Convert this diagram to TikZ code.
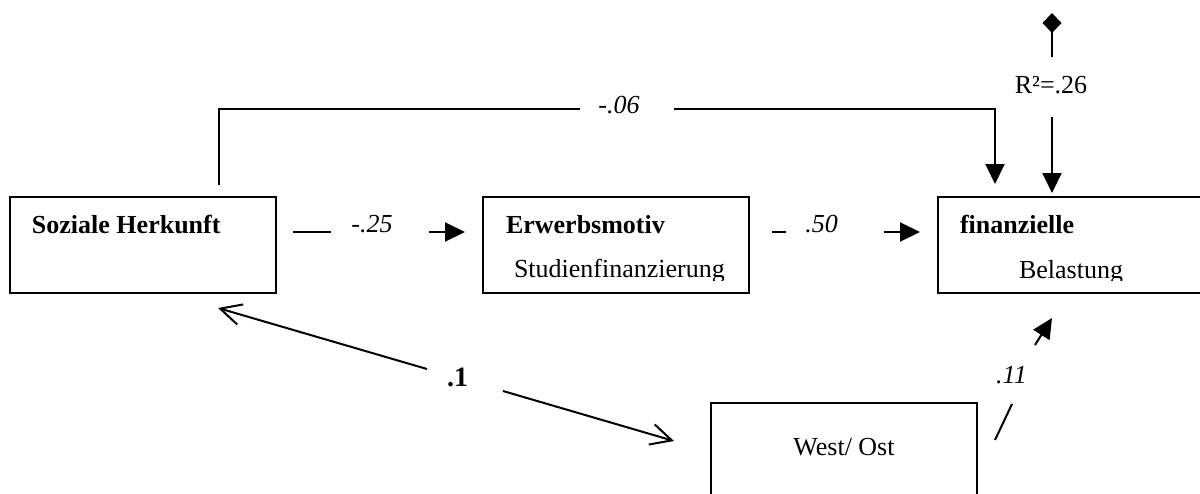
\documentclass[tikz,border=0pt]{standalone}
\usepackage{fontspec}
\setmainfont{Liberation Serif}
\usetikzlibrary{positioning,arrows.meta}

\begin{document}
\begin{tikzpicture}
 [x=0.5pt, y=-0.5pt, line width=1pt,
  box/.style={rectangle,draw=black,minimum width=133pt,minimum height=48pt,inner sep=0pt,outer sep=0pt,anchor=north west},
  boxtext/.style={anchor=base west,inner sep=0pt,font=\fontsize{13}{15}\selectfont},
  coef/.style={anchor=base,inner sep=0pt,font=\fontsize{13}{15}\selectfont\itshape},
  effect/.style={-{Triangle[length=10pt,width=9.5pt]}},
  corr/.style={-{Straight Barb[length=10.5pt,width=10.5pt]}}]
 \clip (0,0) rectangle (1200,493);
 % Kaesten
 \node (hk) [box] at (10,197) {};
 \node (em) [box] at (483,197) {};
 \node (fb) [box] at (938,197) {};
 \node (wo) [box] at (711,403) {};
 \node (hk-t) [boxtext] at ([xshift=10.5pt,yshift=-18pt]hk.north west) {\bfseries Soziale Herkunft};
 \node (em-t) [boxtext] at ([xshift=11pt,yshift=-18pt]em.north west) {\bfseries Erwerbsmotiv};
 \node (fb-t) [boxtext] at ([xshift=10.5pt,yshift=-18pt]fb.north west) {\bfseries finanzielle};
 \begin{scope}
 \clip (0,0) rectangle (1200,280.5);
 \node (em-u) [boxtext] at ([xshift=15pt,yshift=-40pt]em.north west) {Studienfinanzierung};
 \node (fb-u) [boxtext] at ([xshift=40pt,yshift=-40.5pt]fb.north west) {Belastung};
 \end{scope}
 \node (wo-t) [boxtext,anchor=base] at ([yshift=-26pt]wo.north) {West/ Ost};
 % Pfade
 \node (l25) [coef] at (372,232) {-.25};
 \node (l50) [coef] at (821.5,232) {.50};
 \node (l06) [coef] at (619,113) {-.06};
 \node (l11) [coef] at (1011.5,383) {.11};
 \node (l1) [anchor=base,inner sep=0pt,font=\fontsize{14}{16}\selectfont\bfseries] at (457.5,386) {.1};
 \node (r2) [anchor=base,inner sep=0pt,font=\fontsize{13}{15}\selectfont] at (1051,93) {R²=.26};
 \draw ([xshift=8.5pt]hk.east |- l25.base) -- ([xshift=-9.5pt]l25.base west);
 \draw[effect] ([xshift=17.5pt]l25.base east) -- ([xshift=-9pt]em.west |- l25.base);
 \draw ([xshift=11.5pt]em.east |- l50.base) -- ([xshift=-9pt]l50.base west);
 \draw[effect] ([xshift=22.5pt]l50.base east) -- ([xshift=-9pt]fb.west |- l50.base);
 \coordinate (k06a) at (580,109);
 \coordinate (k06b) at (674,109);
 \draw ([xshift=104.5pt,yshift=6pt]hk.north west) |- (k06a);
 \draw[effect] (k06b) -| ([xshift=28.5pt,yshift=6.5pt]fb.north west);
 \coordinate (eps) at (1052,13);
 \draw[{Diamond[length=10pt,width=9.5pt]}-] (eps) -- ([yshift=9pt]eps |- r2.north);
 \draw[effect] ([yshift=-11.5pt]eps |- r2.south) -- ([yshift=2pt]eps |- fb.north);
 \coordinate (c1a) at (427,369);
 \coordinate (c1b) at (503,391);
 \draw[corr] (c1a) -- ([xshift=104pt,yshift=-7.5pt]hk.south west);
 \draw[corr] (c1b) -- ([xshift=-18.5pt,yshift=-19pt]wo.north west);
 \coordinate (w11a) at (995,440);
 \coordinate (w11b) at (1012,404);
 \coordinate (w11c) at (1035,345);
 \draw (w11a) -- (w11b);
 \draw[effect] (w11c) -- ([xshift=57pt,yshift=-12.5pt]fb.south west);
\end{tikzpicture}
\end{document}
